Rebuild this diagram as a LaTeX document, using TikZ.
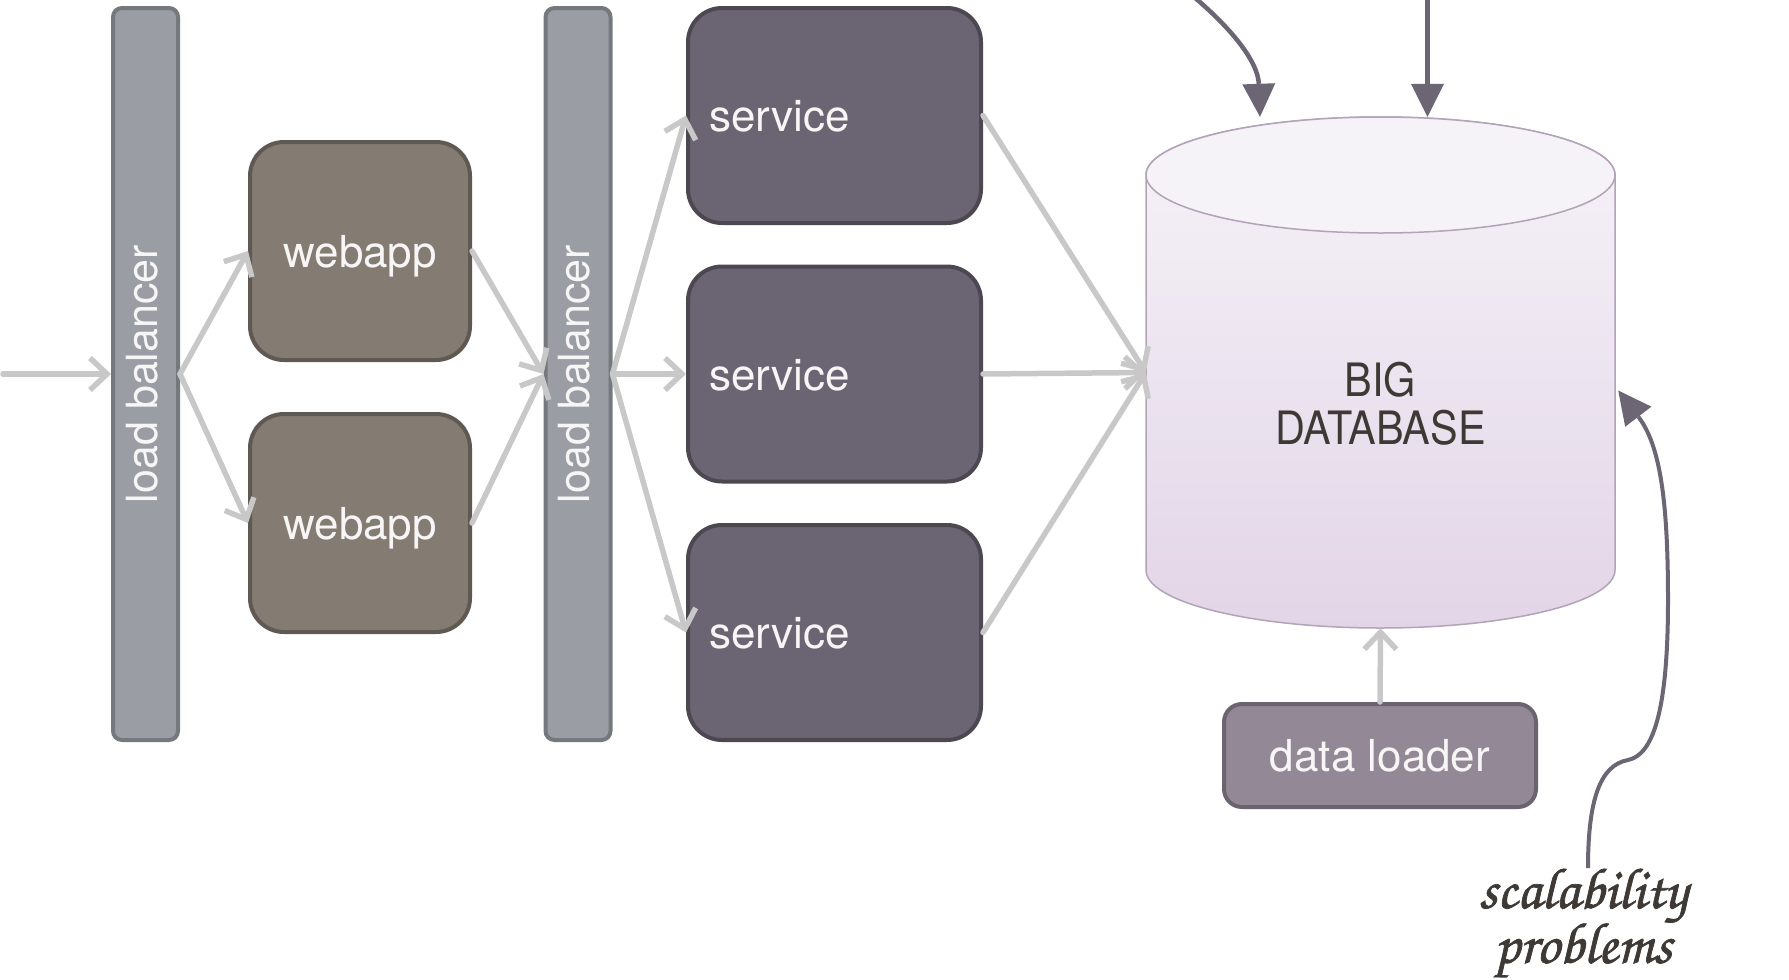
\documentclass[tikz,border=0pt]{standalone}
\usepackage{fontspec}
\setmainfont{TeX Gyre Heros}
\newfontfamily\dbfont[FakeStretch=0.9]{TeX Gyre Heros}
\newfontfamily\notefont[FakeBold=1.2]{texgyrechorus-mediumitalic.otf}
\usetikzlibrary{arrows.meta,calc}

\definecolor{lbfill}{HTML}{9A9DA4}
\definecolor{lbline}{HTML}{75787D}
\definecolor{webfill}{HTML}{847B72}
\definecolor{webline}{HTML}{5F5853}
\definecolor{svcfill}{HTML}{6B6573}
\definecolor{svcline}{HTML}{4C4751}
\definecolor{ldfill}{HTML}{928896}
\definecolor{ldline}{HTML}{6B6470}
\definecolor{flowgrey}{HTML}{C8C8C8}
\definecolor{accent}{HTML}{6B6574}
\definecolor{dbtop}{HTML}{F6F3F8}
\definecolor{dbbot}{HTML}{E2D5E7}
\definecolor{dbline}{HTML}{B3A2B8}
\definecolor{ink}{HTML}{3E3935}
\definecolor{boxtext}{HTML}{F7F5F5}

\begin{document}
\begin{tikzpicture}[x=1pt,y=-1pt,
  box/.style={line width=4pt, inner sep=0pt, text=boxtext,
    font=\fontsize{44}{53}\selectfont, text height=32pt, text depth=0pt},
  lbbox/.style={box, draw=lbline, fill=lbfill, rounded corners=9pt,
    minimum width=65pt, minimum height=732pt},
  lbtext/.style={inner sep=0pt, text=boxtext, rotate=90,
    font=\fontsize{43}{52}\selectfont, text height=23pt, text depth=0pt},
  webbox/.style={box, draw=webline, fill=webfill, rounded corners=34pt,
    minimum width=220pt, minimum height=218pt},
  svcbox/.style={box, draw=svcline, fill=svcfill, rounded corners=34pt,
    minimum width=293pt, minimum height=215pt, inner xsep=21pt,
    text width=251pt, align=left},
  loadbox/.style={box, draw=ldline, fill=ldfill, rounded corners=18pt,
    minimum width=312pt, minimum height=103pt},
  dbtext/.style={inner sep=0pt, align=center, text=ink,
    font=\dbfont\fontsize{46}{48}\selectfont},
  note/.style={inner sep=0pt, align=center, text=ink,
    font=\notefont\fontsize{58}{52}\selectfont},
  flow/.style={draw=flowgrey, line width=5.5pt, line cap=round,
    -{Straight Barb[length=17pt,width=32pt]}},
  accentarrow/.style={draw=accent, line width=4.5pt,
    -{Triangle[length=33pt,width=33pt,line width=0pt]}}
]
\useasboundingbox (0,0) rectangle (1789,980);

% load balancers
\node[lbbox] (lb1) at (145.5,374) {};
\node[lbtext] (lb1t) at (lb1) {load balancer};
\node[lbbox] (lb2) at (578,374) {};
\node[lbtext] (lb2t) at (lb2) {load balancer};

% web tier
\node[webbox] (web1) at (360,251) {webapp};
\node[webbox] (web2) at (360,523) {webapp};

% service tier
\node[svcbox] (svc1) at (834.5,115.5) {service};
\node[svcbox] (svc2) at (834.5,374) {service};
\node[svcbox] (svc3) at (834.5,632.5) {service};

% database cylinder
\path[draw=dbline, line width=1.5pt, top color=dbtop, bottom color=dbbot]
  (1146,175) -- (1146,570)
  .. controls (1146,602) and (1251,628) .. (1380.5,628)
  .. controls (1510,628) and (1615,602) .. (1615,570)
  -- (1615,175)
  .. controls (1615,143) and (1510,117) .. (1380.5,117)
  .. controls (1251,117) and (1146,143) .. (1146,175) -- cycle;
\draw[draw=dbline, line width=1.5pt, fill=dbtop]
  (1380.5,175) ellipse [x radius=234.5, y radius=58];
\node[inner sep=0pt, minimum width=469pt, minimum height=511pt] (db) at (1380.5,372.5) {};
\node[dbtext] (dbt) at (1380.5,404) {BIG\\DATABASE};

% loader
\node[loadbox] (loader) at (1380,755.5) {data loader};

% request flow
\coordinate (entry) at (3,374);
\draw[flow] (entry) -- (lb1.west);
\draw[flow] (lb1.east) -- (web1.west);
\draw[flow] (lb1.east) -- (web2.west);
\draw[flow] (web1.east) -- (lb2.west);
\draw[flow] (web2.east) -- (lb2.west);
\draw[flow] (lb2.east) -- (svc1.west);
\draw[flow] (lb2.east) -- (svc2.west);
\draw[flow] (lb2.east) -- (svc3.west);
\draw[flow] (svc1.east) -- (db.west);
\draw[flow] (svc2.east) -- (db.west);
\draw[flow] (svc3.east) -- (db.west);
\draw[flow] (loader.north) -- (db.south);

% other writers into the database
\coordinate (feedA) at (1188,-8);
\coordinate (feedB) at (1427.5,-8);
\draw[accentarrow] (feedA) .. controls (1232,28) and (1258,62) .. ([xshift=-120.5pt]db.north);
\draw[accentarrow] (feedB) -- ([xshift=47pt]db.north);

% annotation
\node[note] (issue) at (1583,923) {scalability\\problems};
\coordinate (issuetop) at (1588,868);
\draw[accentarrow, line width=4pt] (issuetop)
  .. controls (1588,800) and (1600,765) .. (1628,760)
  .. controls (1652,755) and (1668,715) .. (1668,600)
  .. controls (1668,500) and (1660,445) .. ([shift={(3,18)}]db.east);
\end{tikzpicture}
\end{document}
